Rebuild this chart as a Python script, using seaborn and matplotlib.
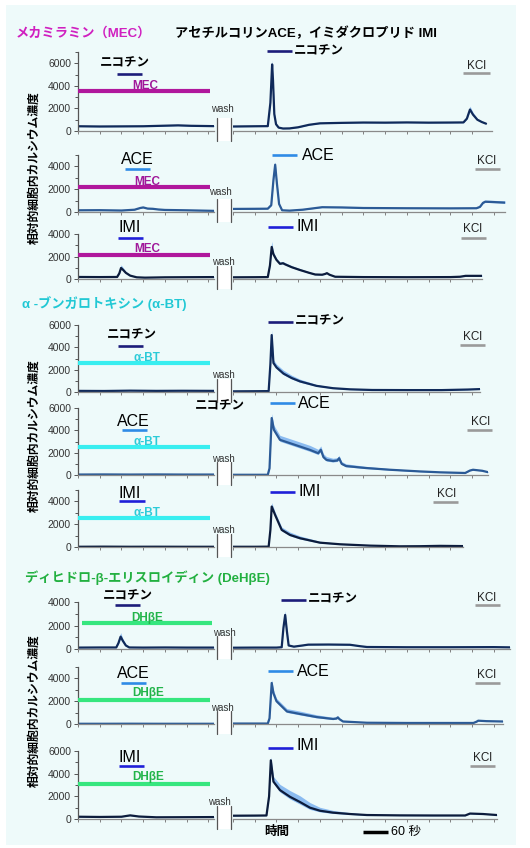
import matplotlib
matplotlib.use("Agg")
import matplotlib.pyplot as plt
import seaborn as sns
from matplotlib.lines import Line2D
from matplotlib.patches import Rectangle

sns.set_style("ticks")
# 英数字は Arial 風、かなは CJK フォント
plt.rcParams['font.family'] = ['Liberation Sans', 'Noto Sans CJK JP', 'DejaVu Sans']

W, H = 530, 848

# ---- データ（時間[秒], 平均値, 誤差）左: wash前 / 右: wash後 ----
# 1) ニコチン + MEC
p1_lt = [0, 50, 100, 150, 200, 230, 260, 313]
p1_lv = [420, 400, 410, 420, 470, 500, 460, 430]
p1_le = [60, 60, 60, 60, 70, 70, 60, 60]
p1_rt = [0, 50, 80, 86, 90, 92, 95, 99, 105, 115, 130, 150, 175, 200, 250, 300, 350, 400, 450, 500, 530, 538, 545, 552, 562, 572, 582]
p1_rv = [400, 420, 430, 2500, 5900, 4500, 1500, 600, 300, 220, 230, 330, 550, 680, 720, 750, 740, 760, 740, 750, 760, 1100, 1900, 1450, 1000, 800, 650]
p1_re = [60, 60, 60, 250, 400, 300, 150, 80, 60, 60, 60, 60, 70, 70, 70, 70, 70, 70, 70, 70, 70, 150, 300, 200, 120, 80, 60]

# 2) ACE + MEC
p2_lt = [0, 50, 100, 130, 143, 150, 160, 172, 185, 200, 250, 313]
p2_lv = [150, 160, 130, 200, 350, 400, 300, 280, 220, 180, 150, 100]
p2_le = [50, 50, 50, 60, 80, 80, 60, 60, 50, 50, 50, 50]
p2_rt = [0, 50, 80, 88, 93, 97, 101, 106, 113, 130, 160, 205, 250, 300, 400, 500, 560, 568, 575, 580, 600, 626]
p2_rv = [270, 280, 290, 600, 2800, 4150, 2500, 700, 150, 120, 200, 420, 400, 350, 330, 320, 330, 450, 800, 900, 870, 820]
p2_re = [50, 50, 50, 150, 250, 250, 200, 100, 50, 50, 60, 70, 60, 50, 50, 50, 50, 100, 150, 150, 150, 150]

# 3) IMI + MEC
p3_lt = [0, 50, 90, 95, 99, 104, 110, 120, 135, 154, 200, 250, 313]
p3_lv = [180, 170, 180, 500, 980, 800, 550, 300, 150, 120, 150, 160, 170]
p3_le = [50, 50, 50, 150, 280, 200, 120, 80, 50, 50, 50, 50, 50]
p3_rt = [0, 50, 80, 85, 89, 93, 100, 108, 115, 120, 135, 154, 175, 189, 205, 212, 216, 222, 235, 300, 400, 500, 522, 535, 573]
p3_rv = [150, 160, 170, 1200, 2850, 2200, 1700, 1350, 1400, 1300, 1050, 800, 550, 400, 380, 450, 520, 380, 200, 170, 160, 170, 200, 280, 280]
p3_re = [50, 50, 50, 300, 500, 200, 150, 150, 150, 150, 130, 120, 100, 80, 80, 80, 80, 60, 50, 50, 50, 50, 50, 60, 60]

# 4) ニコチン + α-BT
p4_lt = [0, 60, 120, 180, 240, 313]
p4_lv = [100, 90, 120, 100, 110, 100]
p4_le = [40, 40, 40, 40, 40, 40]
p4_rt = [0, 50, 82, 86, 89, 93, 100, 116, 135, 154, 192, 230, 269, 320, 400, 480, 540, 568]
p4_rv = [60, 70, 80, 2500, 5100, 2600, 2200, 1650, 1250, 950, 550, 340, 240, 180, 170, 170, 220, 260]
p4_re = [40, 40, 40, 300, 450, 300, 300, 300, 250, 200, 120, 80, 60, 50, 40, 40, 40, 40]

# 5) ACE + α-BT
p5_lt = [0, 60, 120, 180, 240, 313]
p5_lv = [40, 50, 40, 50, 40, 40]
p5_le = [20, 20, 20, 20, 20, 20]
p5_rt = [0, 50, 80, 84, 89, 94, 108, 131, 154, 177, 196, 202, 208, 215, 230, 240, 244, 250, 260, 304, 361, 430, 476, 534, 545, 552, 573, 587]
p5_rv = [20, 20, 20, 600, 5100, 4050, 3150, 2850, 2550, 2250, 1950, 2250, 1600, 1350, 1250, 1300, 1500, 1000, 800, 630, 470, 320, 240, 180, 400, 470, 380, 250]
p5_re = [20, 20, 20, 200, 400, 400, 400, 400, 400, 400, 350, 350, 300, 300, 250, 250, 250, 200, 200, 150, 100, 80, 60, 50, 60, 80, 60, 50]

# 6) IMI + α-BT
p6_lt = [0, 60, 120, 180, 240, 313]
p6_lv = [20, 30, 20, 25, 20, 20]
p6_le = [20, 20, 20, 20, 20, 20]
p6_rt = [0, 50, 82, 86, 89, 97, 112, 131, 154, 200, 246, 315, 384, 430, 476, 529]
p6_rv = [20, 20, 30, 1500, 3550, 2800, 1500, 1060, 770, 380, 240, 120, 60, 70, 100, 80]
p6_re = [20, 20, 20, 200, 350, 250, 250, 250, 200, 120, 80, 50, 30, 30, 30, 30]

# 7) ニコチン + DHβE
p7_lt = [0, 50, 88, 93, 98, 103, 110, 118, 150, 200, 250, 313]
p7_lv = [120, 130, 130, 500, 1050, 700, 300, 130, 120, 130, 120, 120]
p7_le = [40, 40, 40, 150, 350, 200, 100, 40, 40, 40, 40, 40]
p7_rt = [0, 50, 100, 112, 116, 120, 124, 128, 140, 160, 173, 220, 269, 290, 308, 400, 500, 600, 637]
p7_rv = [110, 120, 120, 150, 1800, 2900, 1500, 300, 200, 300, 370, 380, 360, 250, 170, 150, 150, 160, 140]
p7_re = [40, 40, 40, 60, 250, 350, 200, 80, 50, 50, 50, 50, 50, 40, 40, 40, 40, 40, 40]

# 8) ACE + DHβE
p8_lt = [0, 60, 120, 180, 240, 313]
p8_lv = [20, 20, 25, 20, 20, 20]
p8_le = [20, 20, 20, 20, 20, 20]
p8_rt = [0, 50, 80, 84, 89, 93, 100, 124, 154, 192, 230, 238, 241, 245, 253, 308, 400, 500, 553, 560, 564, 583, 621]
p8_rv = [40, 40, 40, 500, 3600, 2700, 2000, 1100, 880, 610, 440, 480, 580, 420, 220, 110, 90, 90, 90, 200, 290, 250, 220]
p8_re = [20, 20, 20, 200, 300, 300, 250, 250, 250, 200, 150, 150, 150, 100, 80, 40, 30, 30, 30, 40, 50, 40, 40]

# 9) IMI + DHβE
p9_lt = [0, 50, 100, 120, 140, 180, 250, 313]
p9_lv = [200, 180, 200, 320, 220, 150, 160, 170]
p9_le = [40, 40, 40, 50, 40, 40, 40, 40]
p9_rt = [0, 50, 77, 83, 87, 93, 108, 131, 154, 177, 200, 230, 269, 308, 384, 460, 534, 545, 575, 607]
p9_rv = [290, 300, 310, 2000, 5180, 3300, 2550, 1960, 1500, 1000, 730, 560, 440, 350, 320, 310, 310, 480, 440, 350]
p9_re = [40, 40, 40, 300, 300, 450, 500, 550, 550, 450, 300, 200, 120, 80, 60, 50, 50, 60, 60, 50]

drugs = ['ニコチン', 'ACE', 'IMI'] * 3
antagonists = ['MEC'] * 3 + ['α-BT'] * 3 + ['DHβE'] * 3
group_titles = ['メカミラミン（MEC）', 'α -ブンガロトキシン (α-BT)', 'ディヒドロ-β-エリスロイディン (DeHβE)']
ylabel = '相対的細胞内カルシウム濃度'

# ---- 色 ----
drug_bar_col = {'ニコチン': '#1c1c7a', 'ACE': '#2f8be6', 'IMI': '#1f1fd8'}
trace_col = {'ニコチン': '#102a5a', 'ACE': '#2b5a96', 'IMI': '#0c1c3c'}
ant_bar_col = {'MEC': '#b0179c', 'α-BT': '#38eef0', 'DHβE': '#36e67e'}
ant_txt_col = {'MEC': '#a0189a', 'α-BT': '#2ccbd8', 'DHβE': '#22b44a'}
title_col = ['#d020c0', '#22c8d4', '#22b040']
band_col = '#86b8f0'

# ---- レイアウト（ピクセル） ----
# y0: 0の位置, top: 軸上端, xend: 右側軸の終わり, ymax
layout = [
    dict(y0=131, top=52, ymax=7000, xend=492),
    dict(y0=212, top=155, ymax=5000, xend=505),
    dict(y0=279, top=234, ymax=4000, xend=482),
    dict(y0=392, top=325, ymax=6000, xend=480),
    dict(y0=475, top=408, ymax=6000, xend=488),
    dict(y0=547, top=490, ymax=5000, xend=463),
    dict(y0=649, top=602, ymax=4000, xend=510),
    dict(y0=724, top=667, ymax=5000, xend=503),
    dict(y0=819, top=751, ymax=6000, xend=497),
]
# 注釈位置: 左薬剤ラベル(x,y), 左バー(x0,x1,y), 拮抗薬バー(x0,x1,y), 拮抗薬ラベル(x,y),
# 右バー(x0,x1,y), 右ラベル(x,y), KClラベル(x,y), KClバー(x0,x1,y), wash(x,y)
notes = [
    dict(lt=(125, 63), lb=(117, 142, 74), ab=(78, 210, 91), al=(145, 86), rb=(267, 292, 51), rl=(294, 51), kt=(477, 66), kb=(463, 490, 73), wash=(222, 109)),
    dict(lt=(137, 160), lb=(125, 150, 169), ab=(78, 210, 187), al=(147, 182), rb=(272, 297, 155), rl=(302, 155), kt=(487, 161), kb=(475, 500, 169), wash=(220, 192)),
    dict(lt=(130, 228), lb=(118, 143, 238), ab=(78, 210, 255), al=(147, 249), rb=(268, 293, 227), rl=(297, 226), kt=(473, 229), kb=(461, 486, 238), wash=(223, 262)),
    dict(lt=(132, 335), lb=(118, 143, 346), ab=(78, 210, 363), al=(147, 358), rb=(268, 293, 322), rl=(295, 321), kt=(472, 337), kb=(460, 485, 345), wash=(223, 375)),
    dict(lt=(133, 421), lb=(122, 147, 430), ab=(78, 210, 447), al=(147, 442), rb=(270, 295, 403), rl=(298, 404), kt=(480, 422), kb=(467, 492, 430), wash=(223, 459)),
    dict(lt=(130, 494), lb=(119, 145, 501), ab=(78, 210, 518), al=(147, 513), rb=(270, 295, 492), rl=(298, 491), kt=(446, 494), kb=(433, 458, 502), wash=(223, 530)),
    dict(lt=(128, 596), lb=(115, 140, 605), ab=(82, 212, 623), al=(147, 618), rb=(281, 306, 600), rl=(308, 599), kt=(487, 598), kb=(475, 500, 605), wash=(224, 633)),
    dict(lt=(133, 673), lb=(121, 146, 683), ab=(78, 210, 700), al=(148, 693), rb=(268, 293, 671), rl=(297, 671), kt=(487, 675), kb=(475, 500, 683), wash=(222, 708)),
    dict(lt=(130, 757), lb=(119, 144, 766), ab=(78, 210, 784), al=(148, 777), rb=(268, 293, 748), rl=(297, 746), kt=(483, 758), kb=(470, 495, 766), wash=(219, 802)),
]

series = [
    (p1_lt, p1_lv, p1_le, p1_rt, p1_rv, p1_re),
    (p2_lt, p2_lv, p2_le, p2_rt, p2_rv, p2_re),
    (p3_lt, p3_lv, p3_le, p3_rt, p3_rv, p3_re),
    (p4_lt, p4_lv, p4_le, p4_rt, p4_rv, p4_re),
    (p5_lt, p5_lv, p5_le, p5_rt, p5_rv, p5_re),
    (p6_lt, p6_lv, p6_le, p6_rt, p6_rv, p6_re),
    (p7_lt, p7_lv, p7_le, p7_rt, p7_rv, p7_re),
    (p8_lt, p8_lv, p8_le, p8_rt, p8_rv, p8_re),
    (p9_lt, p9_lv, p9_le, p9_rt, p9_rv, p9_re),
]

SEC_PER_PX = 2.3
LEFT_X0, LEFT_X1, RIGHT_X0 = 78, 214, 233

fig = plt.figure(figsize=(W / 100, H / 100), dpi=100)
fig.patch.set_facecolor('white')


def fx(x):
    return x / W


def fy(y):
    return 1 - y / H


def hline(x0, x1, y, color, lw):
    fig.add_artist(Line2D([fx(x0), fx(x1)], [fy(y), fy(y)], transform=fig.transFigure,
                          color=color, lw=lw, solid_capstyle='butt'))


def txt(x, y, s, color='black', size=9, weight='normal', ha='center', **kw):
    fig.text(fx(x), fy(y), s, color=color, fontsize=size, fontweight=weight,
             ha=ha, va='center', **kw)


# 背景
fig.add_artist(Rectangle((fx(6), fy(845)), fx(516) - fx(6), fy(5) - fy(845),
                         transform=fig.transFigure, facecolor='#eefafa', edgecolor='none', zorder=-10))


def style_axis(ax, ymax, show_y):
    ax.set_facecolor('none')
    ax.set_ylim(0, ymax)
    sns.despine(ax=ax, left=not show_y)
    ax.spines['bottom'].set_color('#8a8a8a')
    ax.spines['left'].set_color('#555555')
    for s in ['bottom', 'left']:
        ax.spines[s].set_linewidth(0.9)
    ax.set_xticks(range(0, int(ax.get_xlim()[1]) + 1, 50))
    ax.tick_params(axis='x', length=2, width=0.7, color='#808080', labelbottom=False)
    ax.set_xlabel('')
    ax.set_ylabel('')
    if show_y:
        ax.set_yticks(range(0, ymax + 1, 2000))
        ax.set_yticks(range(1000, ymax + 1, 2000), minor=True)
        ax.tick_params(axis='y', which='major', length=3, width=0.7, color='#555555',
                       labelsize=7.5, labelcolor='#333333', pad=2)
        ax.tick_params(axis='y', which='minor', length=2, width=0.7, color='#555555')
    else:
        ax.set_yticks([])


def draw_trace(ax, t, v, e, color):
    lo = [a - 0.35 * b for a, b in zip(v, e)]
    hi = [a + b for a, b in zip(v, e)]
    ax.fill_between(t, lo, hi, color=band_col, lw=0, alpha=0.95)
    sns.lineplot(x=t, y=v, ax=ax, color=color, lw=1.6, sort=False, errorbar=None)


for i, (lay, nt, ser) in enumerate(zip(layout, notes, series)):
    lt, lv, le, rt, rv, re_ = ser
    h = (lay['y0'] - lay['top']) / H
    axl = fig.add_axes([fx(LEFT_X0), fy(lay['y0']), (LEFT_X1 - LEFT_X0) / W, h])
    axr = fig.add_axes([fx(RIGHT_X0), fy(lay['y0']), (lay['xend'] - RIGHT_X0) / W, h])
    axl.set_xlim(0, (LEFT_X1 - LEFT_X0) * SEC_PER_PX)
    axr.set_xlim(0, (lay['xend'] - RIGHT_X0) * SEC_PER_PX)
    draw_trace(axl, lt, lv, le, trace_col[drugs[i]])
    draw_trace(axr, rt, rv, re_, trace_col[drugs[i]])
    style_axis(axl, lay['ymax'], True)
    style_axis(axr, lay['ymax'], False)

    d, a = drugs[i], antagonists[i]
    big = d != 'ニコチン'
    # 左側の薬剤
    txt(*nt['lt'], d, size=11.5 if big else 9, weight='normal' if big else 'bold')
    hline(*nt['lb'], drug_bar_col[d], 1.9)
    # 拮抗薬
    hline(*nt['ab'], ant_bar_col[a], 3.0)
    txt(*nt['al'], a, color=ant_txt_col[a], size=8.5, weight='bold')
    # 右側の薬剤
    hline(*nt['rb'], drug_bar_col[d], 1.9)
    txt(*nt['rl'], d, size=11.5 if big else 9, weight='normal' if big else 'bold', ha='left')
    # KCl
    txt(*nt['kt'], 'KCl', size=8.5, color='#222222')
    hline(*nt['kb'], '#9a9a9a', 1.9)
    # wash とブレーク
    txt(*nt['wash'], 'wash', size=7, color='#333333')
    y0 = lay['y0']
    fig.add_artist(Rectangle((fx(216.5), fy(y0 + 10)), fx(230.5) - fx(216.5), fy(y0 - 13) - fy(y0 + 10),
                             transform=fig.transFigure, facecolor='white', edgecolor='none', zorder=3))
    for bx in (216.5, 230.5):
        fig.add_artist(Line2D([fx(bx), fx(bx)], [fy(y0 - 13), fy(y0 + 10)], transform=fig.transFigure,
                              color='#555555', lw=0.9, zorder=4))

# 5番目のパネルの余分なラベル
txt(220, 406, 'ニコチン', size=9, weight='bold')

# タイトル
txt(16, 33, group_titles[0], color=title_col[0], size=9.5, weight='bold', ha='left')
txt(175, 33, 'アセチルコリンACE，イミダクロプリド IMI', size=9.5, weight='bold', ha='left')
txt(22, 304, group_titles[1], color=title_col[1], size=9.5, weight='bold', ha='left')
txt(25, 578, group_titles[2], color=title_col[2], size=9.5, weight='bold', ha='left')

# 縦軸ラベル
for yc in (168, 436, 711):
    txt(35, yc, ylabel, size=8.5, weight='bold', rotation=90)

# 時間・スケールバー
txt(277, 832, '時間', size=9, weight='bold')
hline(363, 388, 832, 'black', 2.5)
txt(391, 832, '60 秒', size=9, ha='left')

fig.savefig('out.png', dpi=100, facecolor=fig.get_facecolor())
